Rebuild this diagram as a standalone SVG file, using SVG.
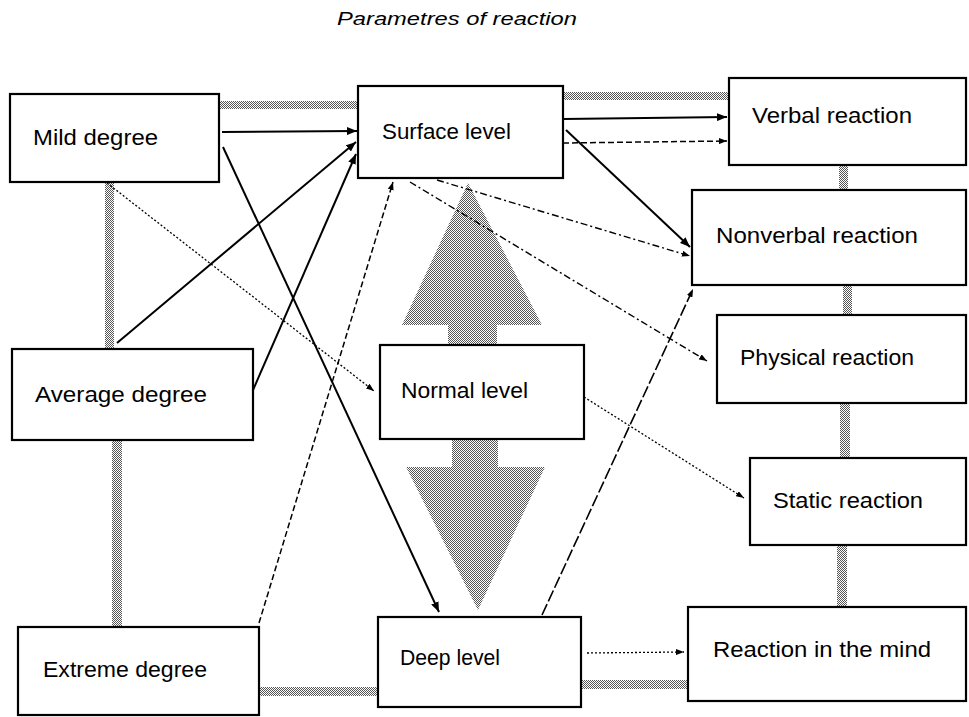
<svg xmlns="http://www.w3.org/2000/svg" width="969" height="717" viewBox="0 0 969 717">
<defs>
<pattern id="stip" width="2" height="2" patternUnits="userSpaceOnUse">
<rect x="0" y="0" width="2" height="2" fill="#fff"/>
<rect x="0" y="0" width="1" height="1" fill="#555"/>
<rect x="1" y="1" width="1" height="1" fill="#555"/>
</pattern>
<marker id="ah" viewBox="0 0 10 8" refX="10" refY="4" markerWidth="10" markerHeight="8" markerUnits="userSpaceOnUse" orient="auto">
<path d="M0,0 L10,4 L0,8 z" fill="#000"/>
</marker>
<marker id="as" viewBox="0 0 8 6" refX="8" refY="3" markerWidth="8" markerHeight="6" markerUnits="userSpaceOnUse" orient="auto">
<path d="M0,0 L8,3 L0,6 z" fill="#000"/>
</marker>
</defs>
<style>
.box{fill:#fff;stroke:#000;stroke-width:2.2}
.t{font-family:"Liberation Sans",Arial,sans-serif;font-size:22px;fill:#000}
.title{font-family:"Liberation Sans",Arial,sans-serif;font-size:18px;font-style:italic;fill:#000}
.st{fill:url(#stip)}
.solid{stroke:#000;stroke-width:2;fill:none;marker-end:url(#ah)}
.dash{stroke:#000;stroke-width:1.5;fill:none;stroke-dasharray:6 3;marker-end:url(#as)}
.ldash{stroke:#000;stroke-width:1.6;fill:none;stroke-dasharray:12 3;marker-end:url(#as)}
.dashdot{stroke:#000;stroke-width:1.4;fill:none;stroke-dasharray:7 3 2 3;marker-end:url(#as)}
.dot{stroke:#000;stroke-width:1.3;fill:none;stroke-dasharray:2 2;marker-end:url(#as)}
</style>
<rect width="969" height="717" fill="#fff"/>
<text class="title" x="337" y="25" textLength="240" lengthAdjust="spacingAndGlyphs">Parametres of  reaction</text>

<g id="stipples">
<rect class="st" x="219" y="101" width="139" height="8"/>
<rect class="st" x="563" y="92" width="166" height="8"/>
<rect class="st" x="105" y="182" width="9" height="167"/>
<rect class="st" x="112" y="440" width="10" height="187"/>
<rect class="st" x="259" y="687" width="119" height="9"/>
<rect class="st" x="581" y="680" width="107" height="9"/>
<rect class="st" x="839" y="165" width="9" height="25"/>
<rect class="st" x="843" y="285" width="9" height="30"/>
<rect class="st" x="840" y="403" width="10" height="55"/>
<rect class="st" x="837" y="545" width="10" height="62"/>
<polygon class="st" points="468,183 542,325 497,325 497,345 448,345 448,325 402,325"/>
<polygon class="st" points="452,439 498,439 498,467 545,467 478,610 406,467 452,467"/>
</g>

<g id="connectors">
<line class="solid" x1="222" y1="132" x2="357" y2="131"/>
<line class="solid" x1="117" y1="343" x2="356" y2="142"/>
<line class="solid" x1="253" y1="390" x2="356" y2="154"/>
<line class="solid" x1="223" y1="147" x2="439" y2="612"/>
<line class="solid" x1="563" y1="119" x2="727" y2="117"/>
<line class="dash" x1="563" y1="143" x2="727" y2="141"/>
<line class="solid" x1="566" y1="130" x2="690" y2="247"/>
<line class="ldash" x1="542" y1="615" x2="693" y2="289"/>
<line class="dash" x1="259" y1="623" x2="393" y2="182"/>
<line class="dashdot" x1="437" y1="180" x2="690" y2="256"/>
<line class="dashdot" x1="410" y1="182" x2="707" y2="361"/>
<line class="dot" x1="107" y1="183" x2="374" y2="391"/>
<line class="dot" x1="584" y1="397" x2="744" y2="498"/>
<line class="dot" x1="587" y1="653" x2="684" y2="652"/>
</g>

<g id="mild"><rect class="box" x="10" y="94" width="209" height="88"/><text class="t" x="33" y="145" textLength="125" lengthAdjust="spacingAndGlyphs">Mild degree</text></g>
<g id="surface"><rect class="box" x="358" y="86" width="205" height="92"/><text class="t" x="382" y="139" textLength="129" lengthAdjust="spacingAndGlyphs">Surface level</text></g>
<g id="verbal"><rect class="box" x="729" y="78" width="237" height="87"/><text class="t" x="752" y="123" textLength="160" lengthAdjust="spacingAndGlyphs">Verbal reaction</text></g>
<g id="nonverbal"><rect class="box" x="692" y="190" width="274" height="95"/><text class="t" x="716" y="243" textLength="202" lengthAdjust="spacingAndGlyphs">Nonverbal reaction</text></g>
<g id="physical"><rect class="box" x="717" y="315" width="249" height="88"/><text class="t" x="740" y="365" textLength="174" lengthAdjust="spacingAndGlyphs">Physical reaction</text></g>
<g id="static"><rect class="box" x="750" y="458" width="216" height="87"/><text class="t" x="773" y="508" textLength="150" lengthAdjust="spacingAndGlyphs">Static reaction</text></g>
<g id="mind"><rect class="box" x="688" y="607" width="278" height="94"/><text class="t" x="713" y="657" textLength="218" lengthAdjust="spacingAndGlyphs">Reaction in the mind</text></g>
<g id="average"><rect class="box" x="12" y="349" width="241" height="91"/><text class="t" x="35" y="402" textLength="172" lengthAdjust="spacingAndGlyphs">Average degree</text></g>
<g id="normal"><rect class="box" x="380" y="345" width="204" height="94"/><text class="t" x="401" y="398" textLength="127" lengthAdjust="spacingAndGlyphs">Normal level</text></g>
<g id="extreme"><rect class="box" x="18" y="627" width="241" height="88"/><text class="t" x="43" y="677" textLength="164" lengthAdjust="spacingAndGlyphs">Extreme degree</text></g>
<g id="deep"><rect class="box" x="378" y="617" width="203" height="90"/><text class="t" x="400" y="665" textLength="100" lengthAdjust="spacingAndGlyphs">Deep level</text></g>
</svg>
